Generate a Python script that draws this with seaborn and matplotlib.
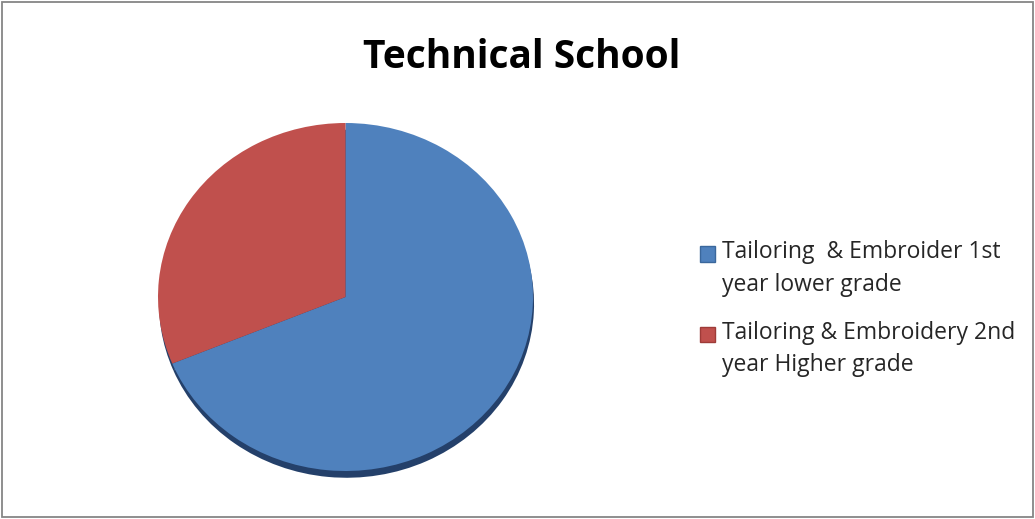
import matplotlib
matplotlib.use("Agg")
import matplotlib.pyplot as plt
import matplotlib.patches as mpatches
from matplotlib.legend_handler import HandlerPatch
import seaborn as sns

# Data
labels = ["Tailoring  & Embroider 1st\nyear lower grade",
          "Tailoring & Embroidery 2nd\nyear Higher grade"]
values = [11, 5]
colors = ["#4F81BD", "#C0504D"]
edge_colors = ["#3A679C", "#9E3B38"]
title = "Technical School"


class FirstLineHandler(HandlerPatch):
    # put the legend square next to the first text line, as Excel does
    def __init__(self, shift, **kw):
        super().__init__(**kw)
        self.shift = shift

    def create_artists(self, legend, orig_handle, xdescent, ydescent,
                       width, height, fontsize, trans):
        return super().create_artists(legend, orig_handle, xdescent,
                                      ydescent - self.shift, width, height,
                                      fontsize, trans)


sns.set_theme(style="white")
plt.rcParams['font.family'] = ['Open Sans', 'DejaVu Sans']

W, H = 1035, 519
fig = plt.figure(figsize=(W / 100, H / 100), dpi=100)

# pie axes placed in pixel space (slightly flattened, like the 3D original)
x0, x1, y0, y1 = 158, 533, 123, 471
ax = fig.add_axes([x0 / W, 1 - y1 / H, (x1 - x0) / W, (y1 - y0) / H])
wedges, _ = ax.pie(values, colors=colors, startangle=90, counterclock=False,
                   wedgeprops=dict(linewidth=0),
                   shadow=dict(ox=0.004, oy=-0.028, facecolor='#24406A',
                               edgecolor='none', alpha=1))
ax.set_aspect('auto')
ax.set_xlim(-1, 1)
ax.set_ylim(-1, 1)
ax.axis('off')

fig.text(522 / W, 1 - 58 / H, title, ha='center', va='center',
         fontsize=28, fontweight='bold', color='black')

handles = [mpatches.Patch(facecolor=c, edgecolor=e, linewidth=1)
           for c, e in zip(colors, edge_colors)]
leg = fig.legend(handles, labels, loc='upper left',
                 bbox_to_anchor=(691 / W, 1 - 231 / H), frameon=False,
                 fontsize=16.5, handlelength=0.66, handleheight=0.66,
                 handletextpad=0.3, labelspacing=1.05, borderaxespad=0,
                 handler_map={mpatches.Patch: FirstLineHandler(shift=11)})
for t in leg.get_texts():
    t.set_linespacing(1.47)

# outer chart frame
fig.patches.append(mpatches.Rectangle((2 / W, 2 / H), 1 - 4 / W, 1 - 4 / H,
                                      transform=fig.transFigure, fill=False,
                                      edgecolor='#868686', linewidth=1.3))

fig.savefig("out.png", dpi=100)
